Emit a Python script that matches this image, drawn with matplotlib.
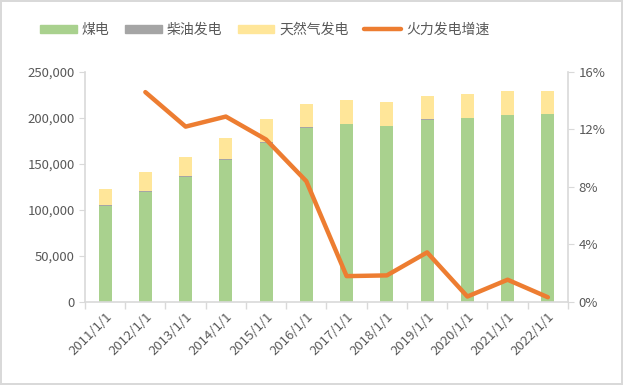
import numpy as np
import matplotlib.pyplot as plt
from matplotlib.lines import Line2D
from matplotlib.patches import Patch
from matplotlib.ticker import FuncFormatter

plt.rcParams['font.family'] = ['Noto Sans CJK SC', 'DejaVu Sans']

years = ['2011/1/1', '2012/1/1', '2013/1/1', '2014/1/1', '2015/1/1', '2016/1/1',
         '2017/1/1', '2018/1/1', '2019/1/1', '2020/1/1', '2021/1/1', '2022/1/1']
coal = [104000, 120000, 136000, 154000, 173000, 189500,
        193000, 191000, 198000, 199500, 202800, 203800]
diesel = [900, 900, 900, 900, 900, 800, 800, 800, 800, 800, 800, 800]
gas = [17900, 20000, 20700, 23400, 24700, 25300,
       25800, 25200, 25500, 25800, 25400, 25100]
growth = [np.nan, 14.6, 12.2, 12.9, 11.3, 8.4,
          1.8, 1.85, 3.45, 0.38, 1.55, 0.33]

c_coal = '#A9D18E'
c_diesel = '#A5A5A5'
c_gas = '#FFE699'
c_line = '#ED7D31'
c_text = '#595959'
c_axis = '#D9D9D9'

fig = plt.figure(figsize=(6.23, 3.85), dpi=100)
fig.patch.set_edgecolor('#D9D9D9')
fig.patch.set_linewidth(1.5)
ax = fig.add_axes([0.1364, 0.2156, 0.7753, 0.5974])
ax2 = ax.twinx()

x = np.arange(len(years))
w = 0.32
coal = np.array(coal)
diesel = np.array(diesel)
gas = np.array(gas)
ax.bar(x, coal, w, color=c_coal, zorder=2)
ax.bar(x, diesel, w, bottom=coal, color=c_diesel, zorder=2)
ax.bar(x, gas, w, bottom=coal + diesel, color=c_gas, zorder=2)

ax2.plot(x, growth, color=c_line, lw=3.2, solid_capstyle='round', solid_joinstyle='round')

ax.set_xlim(-0.5, 11.5)
ax.set_ylim(0, 250000)
ax.set_yticks(np.arange(0, 250001, 50000))
ax.yaxis.set_major_formatter(FuncFormatter(lambda v, p: f'{int(v):,}'))
ax2.set_ylim(0, 16)
ax2.set_yticks([0, 4, 8, 12, 16])
ax2.yaxis.set_major_formatter(FuncFormatter(lambda v, p: f'{int(v)}%'))

ax.set_xticks(x)
ax.set_xticklabels(years, rotation=45, ha='right', rotation_mode='anchor')
ax.set_xticks(np.arange(-0.5, 12, 1), minor=True)
ax.tick_params(axis='x', which='major', length=0, pad=6, labelsize=9.5, labelcolor=c_text)
ax.tick_params(axis='x', which='minor', length=5, color=c_axis, width=1)
ax.tick_params(axis='y', length=4, color=c_axis, labelsize=9.5, labelcolor=c_text)
ax2.tick_params(axis='y', length=4, color=c_axis, labelsize=9.5, labelcolor=c_text)

for a in (ax, ax2):
    for s in a.spines.values():
        s.set_visible(False)
ax.spines['left'].set_visible(True)
ax.spines['bottom'].set_visible(True)
ax2.spines['right'].set_visible(True)
for s in (ax.spines['left'], ax.spines['bottom'], ax2.spines['right']):
    s.set_color(c_axis)
    s.set_linewidth(1.2)

handles = [Patch(color=c_coal), Patch(color=c_diesel), Patch(color=c_gas),
           Line2D([], [], color=c_line, lw=3.2, solid_capstyle='round')]
labels = ['煤电', '柴油发电', '天然气发电', '火力发电增速']
fig.legend(handles, labels, loc='center left', bbox_to_anchor=(0.055, 0.922), ncol=4,
           frameon=False, fontsize=10, handlelength=2.66, handleheight=0.55,
           handletextpad=0.36, columnspacing=1.1, labelcolor=c_text, borderaxespad=0)

fig.savefig('out.png', dpi=100)
